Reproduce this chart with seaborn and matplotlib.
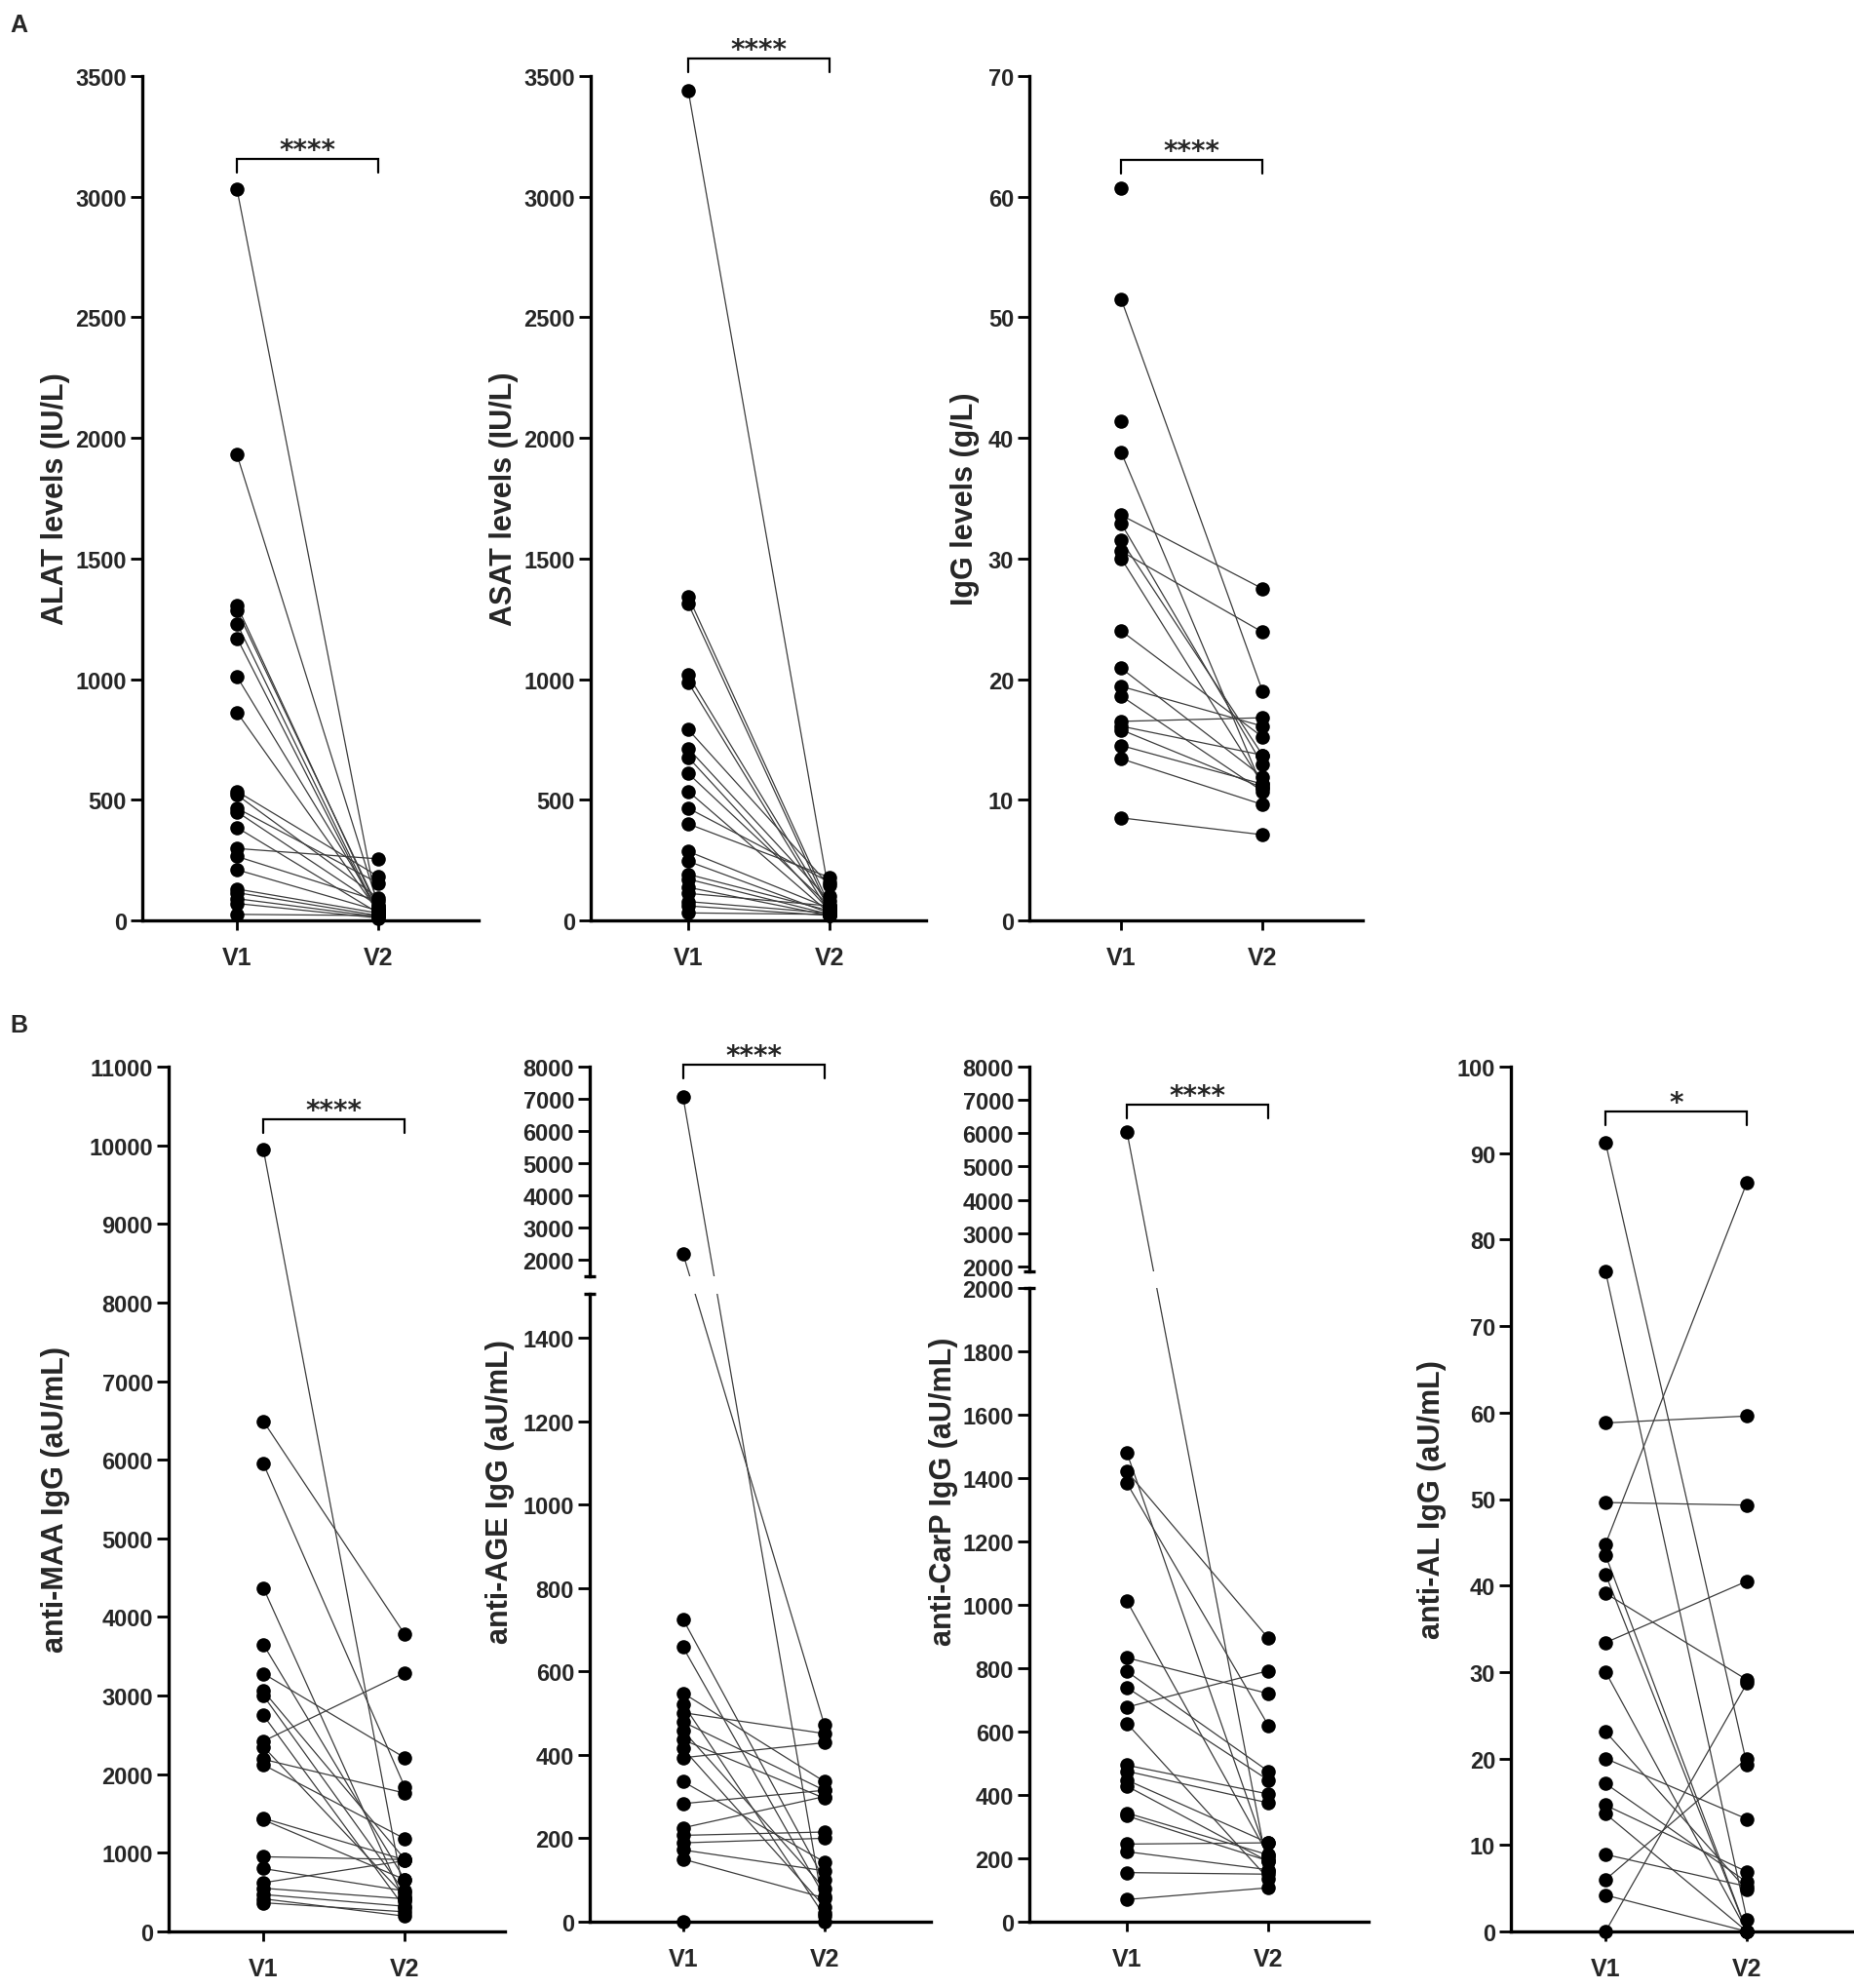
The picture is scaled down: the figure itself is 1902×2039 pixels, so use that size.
import numpy as np
import pandas as pd
import matplotlib.pyplot as plt
import seaborn as sns

W, H = 1902, 2040
UNIT_PX = 145  # pixel distance between V1 and V2

# ---- data (paired V1 -> V2, nan = no V2 value) ----
alat_v1 = [3030, 1930, 1305, 1285, 1230, 1170, 1010, 862, 535, 520, 465,
           450, 385, 298, 265, 210, 130, 115, 90, 70, 25]
alat_v2 = [30, 60, 40, 50, 25, 20, 45, 35, 182, 93, 154,
           60, 30, 255, 80, 40, 30, 20, 15, 10, 20]

asat_v1 = [3440, 1343, 1313, 1017, 986, 791, 713, 676, 609, 535, 465,
           400, 286, 245, 191, 171, 137, 112, 78, 60, 31]
asat_v2 = [100, 60, 40, 50, 30, 144, 80, 40, 60, 30, 158,
           178, 50, 30, 40, 25, 20, 60, 30, 20, 25]

igg_v1 = [60.7, 51.5, 41.4, 38.8, 33.6, 32.9, 31.5, 30.6, 30.0, 24.0,
          20.9, 19.4, 18.6, 16.5, 16.1, 15.8, 14.5, 13.4, 8.5]
igg_v2 = [np.nan, 19.0, np.nan, 11.0, 27.5, 12.9, 13.7, 23.9, 11.3, 15.2,
          11.9, 16.1, 10.7, 16.8, 13.7, 11.0, 11.3, 9.6, 7.1]

maa_v1 = [9950, 6490, 5950, 4370, 3650, 3280, 3060, 3000, 2750, 2420, 2350,
          2190, 2120, 1440, 1420, 950, 800, 620, 550, 470, 415, 365]
maa_v2 = [420, 3780, 1840, 380, 660, 2210, 920, 500, 300, 3290, 450,
          1760, 1180, 910, 660, 915, 515, 900, 415, 320, 195, 250]

age_v1 = [7070, 2190, 725, 658, 548, 522, 501, 479, 458, 436, 415,
          393, 336, 283, 225, 207, 189, 172, 150, 0]
age_v2 = [20, 472, 100, 60, 336, 14, 451, 315, 80, 296, 36,
          429, 143, 315, 300, 215, 200, 122, 57, 0]

carp_v1 = [6050, 1480, 1421, 1384, 1012, 833, 790, 739, 677, 626,
           494, 475, 447, 428, 343, 334, 245, 221, 155, 70]
carp_v2 = [160, 200, 895, 620, 210, 720, 475, 447, 792, 136,
           403, 375, 249, 190, 211, 192, 249, 164, 150, 107]

al_v1 = [91.2, 76.3, 58.8, 49.6, 44.8, 43.5, 41.3, 39.1, 33.4, 30.0,
         23.1, 20.0, 17.1, 14.6, 13.6, 8.9, 6.0, 4.2, 0.0]
al_v2 = [19.3, 1.4, 59.6, 49.3, 86.6, 0.0, 0.0, 29.1, 40.5, 0.0,
         4.8, 13.0, 5.7, 6.9, 0.0, 5.2, 20.0, 0.0, 28.7]

visits = ["V1", "V2"]

sns.set_theme(style="ticks")
plt.rcParams["font.family"] = ["Liberation Sans", "DejaVu Sans"]
plt.rcParams["font.weight"] = "bold"

LINE_COLOR = "#3c3c3c"
SPINE_W = 2.4


def paired_frame(v1, v2):
    rows = []
    for pid, (a, b) in enumerate(zip(v1, v2)):
        rows.append((pid, 0, a))
        if not np.isnan(b):
            rows.append((pid, 1, b))
    return pd.DataFrame(rows, columns=["pid", "visit", "value"])


def add_axes(fig, left, right, top, bottom):
    return fig.add_axes([left / W, 1 - bottom / H, (right - left) / W, (bottom - top) / H])


def draw_pairs(ax, v1, v2):
    df = paired_frame(v1, v2)
    sns.lineplot(data=df, x="visit", y="value", units="pid", estimator=None,
                 color=LINE_COLOR, linewidth=0.9, legend=False, ax=ax, zorder=2)
    lo, hi = ax.get_ylim()
    pts = df[(df["value"] >= lo - 1e-9) & (df["value"] <= hi + 1e-9)]
    sns.scatterplot(data=pts, x="visit", y="value", color="black", s=110,
                    linewidth=0, legend=False, ax=ax, zorder=3, clip_on=False)
    ax.set_xlabel("")
    ax.set_ylabel("")


def frame(ax, ylim, yticks, x_left, bottom=True):
    w_px = ax.get_position().width * W
    ax.set_xlim(x_left, x_left + w_px / UNIT_PX)
    ax.set_ylim(*ylim)
    ax.set_yticks(yticks, labels=[str(t) for t in yticks],
                  fontfamily="Liberation Sans", fontweight="bold", fontsize=17)
    ax.tick_params(axis="y", length=8.5, width=2.0, pad=3, color="black")
    ax.spines[["top", "right"]].set_visible(False)
    ax.spines["left"].set_linewidth(SPINE_W)
    ax.spines["left"].set_color("black")
    if bottom:
        ax.spines["bottom"].set_linewidth(SPINE_W)
        ax.spines["bottom"].set_color("black")
        ax.set_xticks([0, 1], labels=visits, fontsize=18, fontweight="bold",
                      fontfamily="Liberation Sans")
        ax.tick_params(axis="x", length=7, width=2.0, pad=12, color="black")
    else:
        ax.spines["bottom"].set_visible(False)
        ax.tick_params(axis="x", bottom=False, labelbottom=False)
    ax.grid(False)


def to_axis(values, ax_hi, ax_lo, split, target):
    # express values of a broken axis in the data units of `target`,
    # so that each V1-V2 segment stays straight on screen
    out = []
    for v in values:
        if np.isnan(v):
            out.append(np.nan)
            continue
        src = ax_hi if v > split else ax_lo
        p = src.transData.transform((0, v))
        out.append(target.transData.inverted().transform(p)[1])
    return out


def bracket(ax, y, text):
    y0, y1 = ax.get_ylim()
    per_px = (y1 - y0) / (ax.get_position().height * H)
    d = 14 * per_px
    ax.plot([0, 0, 1, 1], [y - d, y, y, y - d], color="black", lw=1.6,
            clip_on=False, solid_joinstyle="miter", zorder=4)
    ax.text(0.5, y + 1 * per_px, text, ha="center", va="baseline", fontsize=20,
            fontweight="bold", fontfamily="DejaVu Sans", clip_on=False)


def break_cap(ax, at_top):
    w_px = ax.get_position().width * W
    half = 6 / w_px
    yy = 1 if at_top else 0
    ax.plot([-half, half], [yy, yy], transform=ax.transAxes, color="black",
            lw=SPINE_W, clip_on=False, solid_capstyle="butt")


def ylabel(fig, x, y, text):
    fig.text(x / W, 1 - y / H, text, rotation=90, ha="center", va="center",
             fontsize=22, fontweight="bold", fontfamily="Liberation Sans")


def broken_panel(fig, left, right, top, split_top, split_bottom, bottom,
                 hi_lim, lo_lim, hi_ticks, lo_ticks, v1, v2, x_left):
    ax_hi = add_axes(fig, left, right, top, split_top)
    ax_lo = add_axes(fig, left, right, split_bottom, bottom)
    frame(ax_hi, hi_lim, hi_ticks, x_left, bottom=False)
    frame(ax_lo, lo_lim, lo_ticks, x_left)
    split = lo_lim[1]
    for target in (ax_hi, ax_lo):
        draw_pairs(target,
                   to_axis(v1, ax_hi, ax_lo, split, target),
                   to_axis(v2, ax_hi, ax_lo, split, target))
        target.set_ylim(*(hi_lim if target is ax_hi else lo_lim))
    break_cap(ax_hi, at_top=False)
    break_cap(ax_lo, at_top=True)
    return ax_hi, ax_lo


fig = plt.figure(figsize=(W / 100, H / 100), dpi=100)

# ---- row A ----
ax = add_axes(fig, 146, 491, 79, 945)
frame(ax, (0, 3500), list(range(0, 3501, 500)), -0.67)
draw_pairs(ax, alat_v1, alat_v2)
bracket(ax, 3155, "****")
ylabel(fig, 57, 512, "ALAT levels (IU/L)")

ax = add_axes(fig, 606, 950, 79, 945)
frame(ax, (0, 3500), list(range(0, 3501, 500)), -0.69)
draw_pairs(ax, asat_v1, asat_v2)
bracket(ax, 3573, "****")
ylabel(fig, 517, 512, "ASAT levels (IU/L)")

ax = add_axes(fig, 1056, 1398, 79, 945)
frame(ax, (0, 70), list(range(0, 71, 10)), -0.65)
draw_pairs(ax, igg_v1, igg_v2)
bracket(ax, 63.05, "****")
ylabel(fig, 990, 512, "IgG levels (g/L)")

# ---- row B ----
ax = add_axes(fig, 173, 518, 1095, 1982)
frame(ax, (0, 11000), list(range(0, 11001, 1000)), -0.67)
draw_pairs(ax, maa_v1, maa_v2)
bracket(ax, 10330, "****")
ylabel(fig, 57, 1538, "anti-MAA IgG (aU/mL)")

ax_hi, _ = broken_panel(fig, 605, 955, 1095, 1310, 1328, 1972,
                        (1485, 8000), (0, 1505),
                        list(range(2000, 8001, 1000)), list(range(0, 1401, 200)),
                        age_v1, age_v2, -0.66)
bracket(ax_hi, 8060, "****")
ylabel(fig, 513, 1530, "anti-AGE IgG (aU/mL)")

ax_hi, _ = broken_panel(fig, 1056, 1404, 1095, 1305, 1322, 1972,
                        (1850, 8000), (0, 2000),
                        list(range(2000, 8001, 1000)), list(range(0, 2001, 200)),
                        carp_v1, carp_v2, -0.69)
bracket(ax_hi, 6854, "****")
ylabel(fig, 968, 1530, "anti-CarP IgG (aU/mL)")

ax = add_axes(fig, 1550, 1900, 1095, 1982)
frame(ax, (0, 100), list(range(0, 101, 10)), -0.67)
draw_pairs(ax, al_v1, al_v2)
bracket(ax, 94.8, "*")
ylabel(fig, 1469, 1538, "anti-AL IgG (aU/mL)")

# panel letters
fig.text(10 / W, 1 - 14 / H, "A", ha="left", va="top", fontsize=18, fontweight="bold")
fig.text(10 / W, 1 - 1040 / H, "B", ha="left", va="top", fontsize=18, fontweight="bold")

fig.savefig("out.png", dpi=100, facecolor="white")
